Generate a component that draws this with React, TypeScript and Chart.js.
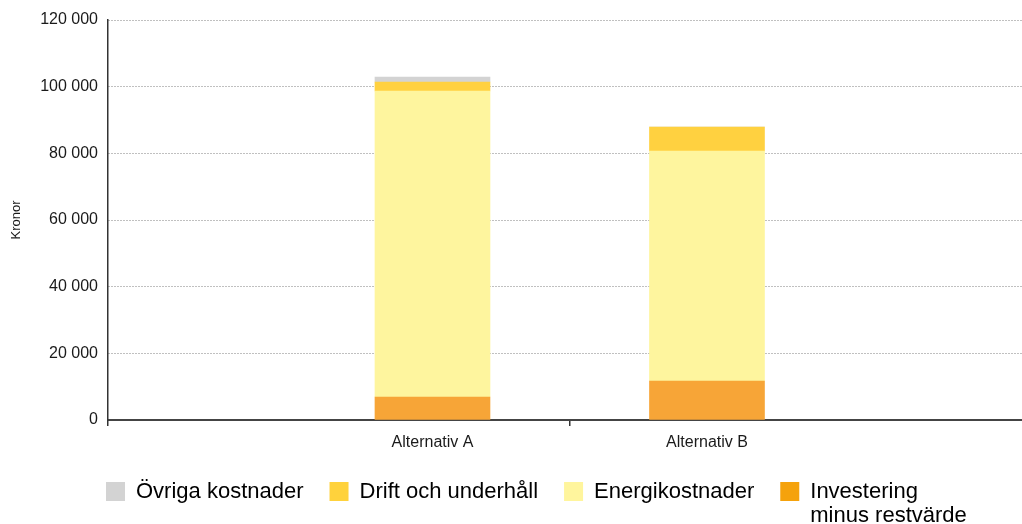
import React, { useEffect, useRef } from "react";
import { Chart, registerables } from "chart.js";

Chart.register(...registerables);

const categories = ["Alternativ A", "Alternativ B"];
const investering = [6900, 11700];
const energi = [91800, 69000];
const drift = [2700, 7200];
const ovriga = [1500, 0];
const yTicks = [0, 20000, 40000, 60000, 80000, 100000, 120000];
const legendNames = ["Övriga kostnader", "Drift och underhåll", "Energikostnader", ["Investering", "minus restvärde"]];

const FONT = "'Liberation Sans', Arial, Helvetica, sans-serif";
const X_MIN = -0.1821;
const X_MAX = 3.1476;

const fmt = (v: number) => String(v).replace(/\B(?=(\d{3})+(?!\d))/g, " ");

const legendPlace = {
  id: "legendPlace",
  beforeDraw(chart: any) {
    const l = chart.legend;
    if (l) {
      l.left = 80;
      l.top = 454.5;
    }
  },
};

function multiLine(lines: string[]) {
  const arr: any = lines.slice();
  const longest = lines.reduce((a, b) => (a.length >= b.length ? a : b), "");
  arr.toString = () => longest;
  return arr;
}

export default function App() {
  const ref = useRef<HTMLCanvasElement | null>(null);
  useEffect(() => {
    if (!ref.current) return;
    const toPts = (arr: number[]) => arr.map((y, i) => ({ x: i + 1, y }));
    const legendColors = ["#D3D3D3", "#FFD23C", "#FFF59D", "#F5A20C"];
    const legendDs = [3, 2, 1, 0];
    const chart = new Chart(ref.current, {
      type: "bar",
      data: {
        datasets: [
          { label: "Investering minus restvärde", data: toPts(investering) as any, backgroundColor: "#F7A537", borderWidth: 0 },
          { label: "Energikostnader", data: toPts(energi) as any, backgroundColor: "#FEF59E", borderWidth: 0 },
          { label: "Drift och underhåll", data: toPts(drift) as any, backgroundColor: "#FFD140", borderWidth: 0 },
          { label: "Övriga kostnader", data: toPts(ovriga) as any, backgroundColor: "#D3D3D3", borderWidth: 0 },
        ],
      },
      options: {
        animation: false,
        responsive: true,
        maintainAspectRatio: false,
        datasets: { bar: { barThickness: 115 } } as any,
        layout: { padding: { top: 20, right: 0, bottom: 0, left: 0 } },
        plugins: {
          tooltip: { enabled: false },
          legend: {
            position: "bottom",
            align: "start",
            labels: {
              boxWidth: 19,
              boxHeight: 19,
              padding: 26,
              color: "#1a1a1a",
              font: { family: FONT, size: 22, lineHeight: 1.1 },
              generateLabels: () =>
                legendNames.map((name, i) => ({
                  text: Array.isArray(name) ? multiLine(name) : name,
                  fillStyle: legendColors[i],
                  strokeStyle: legendColors[i],
                  lineWidth: 0,
                  hidden: false,
                  datasetIndex: legendDs[i],
                })),
            },
          },
        },
        scales: {
          x: {
            type: "linear",
            stacked: true,
            min: X_MIN,
            max: X_MAX,
            offset: false,
            afterFit: (s: any) => {
              s.height = 46;
            },
            afterBuildTicks: (s: any) => {
              s.ticks = [{ value: X_MIN }, { value: 1 }, { value: 1.5 }, { value: 2 }];
            },
            ticks: {
              autoSkip: false,
              maxRotation: 0,
              padding: 7,
              color: "#1a1a1a",
              font: { family: FONT, size: 16 },
              callback: (v: any) => {
                const n = Number(v);
                return Number.isInteger(n) && categories[n - 1] ? categories[n - 1] : "";
              },
            },
            grid: {
              offset: false,
              drawOnChartArea: false,
              drawTicks: true,
              tickLength: 6,
              lineWidth: 1.5,
              color: (ctx: any) =>
                ctx.tick && (ctx.tick.value === 1.5 || ctx.tick.value === X_MIN) ? "#333" : "rgba(0,0,0,0)",
            },
            border: { display: true, color: "#444", width: 2 },
          },
          y: {
            stacked: true,
            min: 0,
            max: 120000,
            afterFit: (s: any) => {
              s.width = 108;
            },
            afterBuildTicks: (s: any) => {
              s.ticks = yTicks.map((value) => ({ value }));
            },
            ticks: {
              padding: 10,
              color: "#1a1a1a",
              font: { family: FONT, size: 16 },
              callback: (v: any) => fmt(Number(v)),
            },
            grid: {
              drawTicks: false,
              color: "#808080",
              lineWidth: 1,
            },
            border: { display: true, color: "#333", width: 1.5, dash: [1, 2] },
            title: {
              display: true,
              text: "Kronor",
              color: "#1a1a1a",
              font: { family: FONT, size: 13 },
              padding: { top: 9, bottom: 0 },
            },
          },
        },
      },
      plugins: [legendPlace],
    });
    return () => chart.destroy();
  }, []);
  return (
    <div style={{ position: "absolute", left: 0, top: 0, width: 1022, height: 524 }}>
      <canvas ref={ref} />
    </div>
  );
}
